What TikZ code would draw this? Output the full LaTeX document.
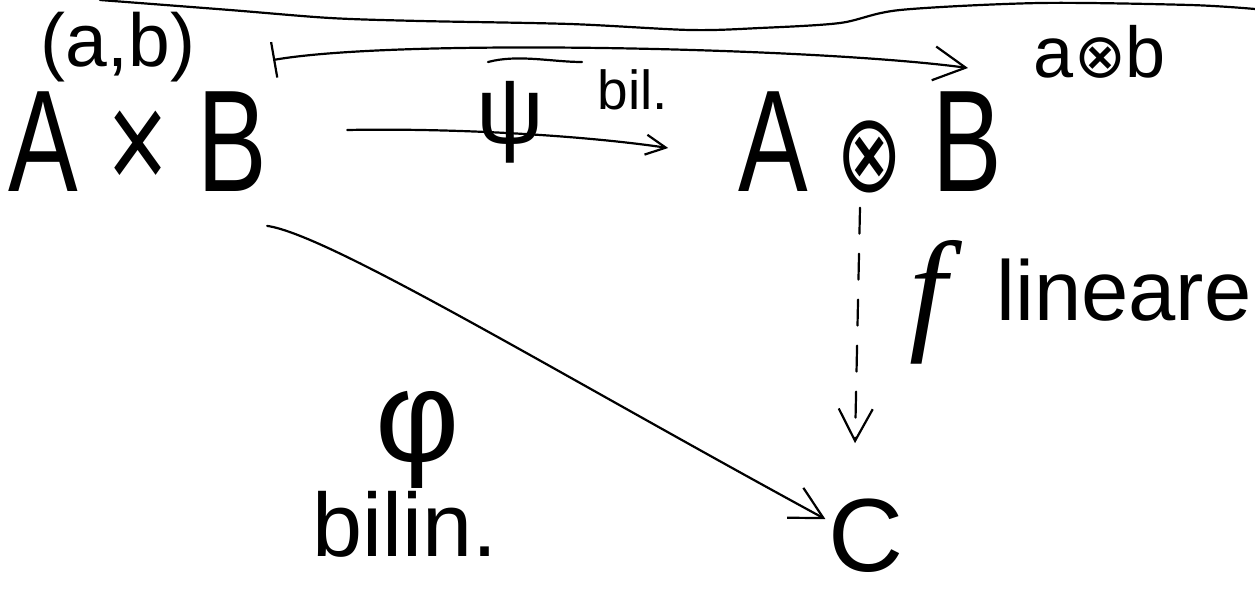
\documentclass[tikz,border=0pt]{standalone}
\usepackage{fontspec}
\setmainfont{Liberation Sans}
\newfontfamily\djv{DejaVu Sans}
\newfontfamily\lserif{Liberation Serif}
\usetikzlibrary{arrows.meta}
\newcommand\fsz[1]{\fontsize{#1}{#1}\selectfont}
\tikzset{
  lbl/.style={inner sep=0pt, outer sep=0pt, anchor=center},
  hand/.style={line width=2.2pt, line cap=round, line join=round},
  bigtip/.style={-{Straight Barb[length=32pt,width=34pt,line width=2.2pt]}},
  smalltip/.style={-{Straight Barb[length=20pt,width=20pt,line width=2.2pt]}},
}
\begin{document}
\begin{tikzpicture}[x=1pt,y=-1pt]
\useasboundingbox (0,0) rectangle (1255,597);
% top stroke
\draw[hand] plot[smooth] coordinates {(100,0) (230,10) (330,18) (420,21) (570,24) (690,30) (760,28) (840,23) (900,10) (1040,3) (1190,5) (1255,9)};
% nodes
\node[lbl] (ab)  at (118,47) {\fsz{75}(a,b)};
\node[lbl, xscale=0.72, transform shape] (AB) at (138,142) {\fsz{145}A × B};
\node[lbl, xscale=0.72, transform shape] (AtB) at (870,142) {\fsz{145}A {\djv\fsz{110}⊗} B};
\node[lbl] (ab2) at (1100,52) {\fsz{72}a{\djv\fsz{62}⊗}b};
\node[lbl] (C) at (866,536) {\fsz{104}C};
\node[lbl] (psi) at (510,122) {\fsz{95}ψ};
\node[lbl] (bil) at (633,90) {\fsz{55}bil.};
\node[lbl] (f) at (928,302) {\lserif\itshape\fsz{135}f};
\node[lbl] (lin) at (1124,290) {\fsz{85}lineare};
\node[lbl] (phi) at (418,440) {\fsz{130}φ};
\node[lbl] (bilin) at (405,524) {\fsz{90}bilin.};
% overline of psi
\draw[hand] ([shift={(-22,-60)}]psi.center) .. controls +(30,-8) and +(-30,0) .. ([shift={(72,-60)}]psi.center);
% maps-to arrow
\draw[hand, {Bar[width=36pt,line width=2.2pt]}-{Straight Barb[length=32pt,width=34pt,line width=2.2pt]}]
  ([shift={(78,13)}]ab.east) .. controls (400,38) and (820,48) .. ([shift={(-66,16)}]ab2.west);
% psi arrow
\draw[hand, smalltip] ([shift={(80,-12)}]AB.east) .. controls (450,128) and (580,135) .. ([shift={(-70,6)}]AtB.west);
% dashed arrow f
\draw[hand, bigtip, dash pattern=on 26pt off 20pt] ([shift={(-10,15)}]AtB.south) -- ([shift={(-11,-56)}]C.north);
% phi arrow
\draw[hand, bigtip] ([shift={(0,34)}]AB.south east) .. controls (330,235) and (560,375) .. ([shift={(-3,20)}]C.north west);
\end{tikzpicture}
\end{document}
